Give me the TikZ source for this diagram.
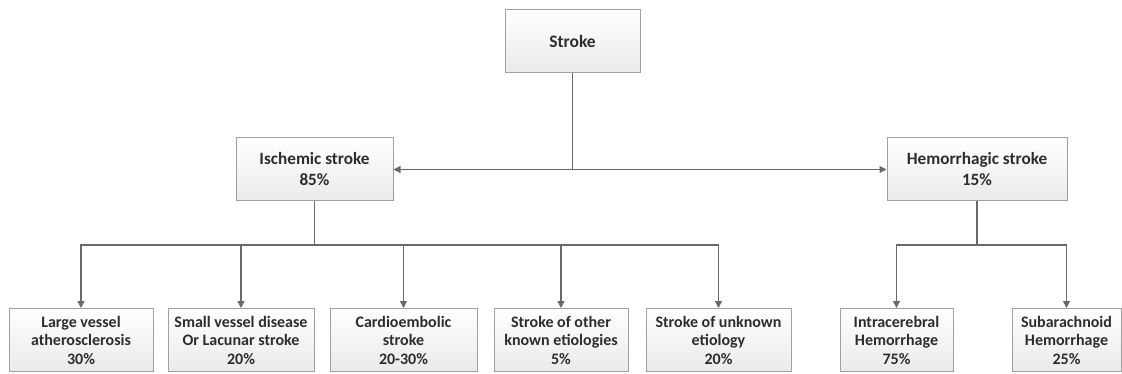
\documentclass[tikz,border=0pt]{standalone}
\usepackage{fontspec}
\setmainfont{Carlito}
\usepackage{xcolor}
\definecolor{edge}{RGB}{160,160,160}
\definecolor{boxtop}{RGB}{255,255,255}
\definecolor{boxbottom}{RGB}{234,234,234}
\definecolor{wire}{RGB}{105,105,105}
\definecolor{label}{RGB}{45,45,45}
\usepackage{tikz}
\usetikzlibrary{
    arrows.meta,
    positioning,
    calc,
    shadows
}

\begin{document}
\begin{tikzpicture}[
        x=1pt, y=-1pt,
        box/.style={rectangle, draw=edge, line width=1pt, top color=boxtop, bottom color=boxbottom, align=center, text=label, font=\bfseries\fontsize{16}{18.5}\selectfont, inner sep=0pt, minimum height=63pt, minimum width=#1},
        arrow/.style={-{Triangle[width=7pt,length=7pt]}, line width=1.2pt, color=wire}
    ]
        \useasboundingbox (0,0) rectangle (1122,374);

        \node[box=135pt, font=\bfseries\fontsize{17.5}{20}\selectfont] (stroke) at (572.5, 41) {Stroke};
        \node[box=157pt, font=\bfseries\fontsize{17.2}{21}\selectfont] (ischemic) at (314.5, 169.5) {Ischemic stroke\\85\%};
        \node[box=180pt, font=\bfseries\fontsize{17.2}{21}\selectfont] (hemorrhagic) at (977, 169.5) {Hemorrhagic stroke\\15\%};

        \node[box=144pt] (large) at (81, 340) {Large vessel\\atherosclerosis\\30\%};
        \node[box=146pt] (small) at (241, 340) {Small vessel disease\\Or Lacunar stroke\\20\%};
        \node[box=147pt] (cardio) at (403.5, 340) {Cardioembolic\\stroke\\20-30\%};
        \node[box=134pt] (other) at (561, 340) {Stroke of other\\known etiologies\\5\%};
        \node[box=145pt] (unknown) at (718.5, 340) {Stroke of unknown\\etiology\\20\%};
        \node[box=113pt] (intra) at (896.5, 340) {Intracerebral\\Hemorrhage\\75\%};
        \node[box=109pt] (subarach) at (1066.5, 340) {Subarachnoid\\Hemorrhage\\25\%};

        \coordinate (isbus) at (314.5, 245);
        \coordinate (hebus) at (977, 245);

        \draw[arrow] (stroke.south) |- (ischemic.east);
        \draw[arrow] (stroke.south) |- (hemorrhagic.west);

        \draw[line width=1.2pt, color=wire] (ischemic.south) -- (isbus);
        \draw[arrow] (isbus) -| (large.north);
        \draw[arrow] (isbus) -| (small.north);
        \draw[arrow] (isbus) -| (cardio.north);
        \draw[arrow] (isbus) -| (other.north);
        \draw[arrow] (isbus) -| (unknown.north);

        \draw[line width=1.2pt, color=wire] (hemorrhagic.south) -- (hebus);
        \draw[arrow] (hebus) -| (intra.north);
        \draw[arrow] (hebus) -| (subarach.north);
    \end{tikzpicture}
\end{document}
